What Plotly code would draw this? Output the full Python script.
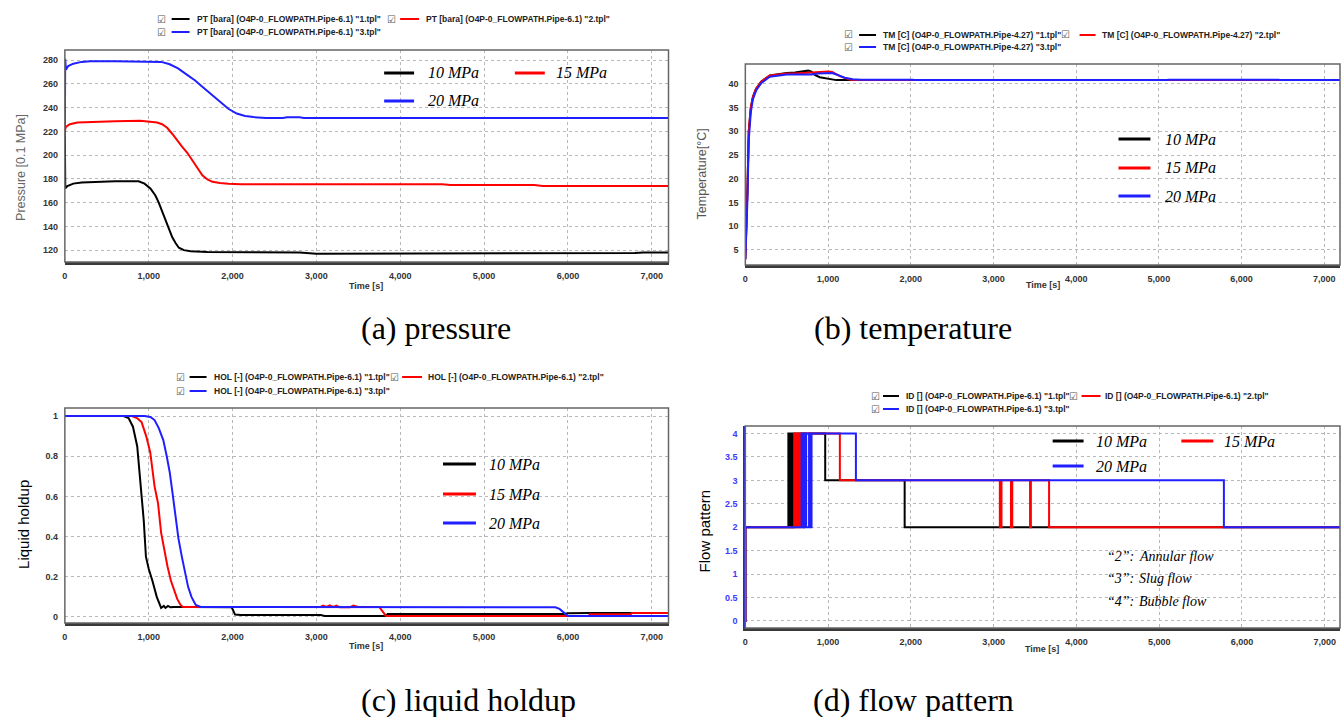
import plotly.graph_objects as go

W, H = 1341, 717

# ---------------- data ----------------
series_names = ["10 MPa", "15 MPa", "20 MPa"]
series_colors = ["#000000", "#ff0000", "#1f1fff"]

# (a) pressure [0.1 MPa]
p_t_10 = [0, 5, 30, 100, 200, 400, 600, 880, 950, 1020, 1080, 1120, 1160, 1200, 1240, 1280, 1320, 1360, 1420, 1500, 1700, 2000, 2200, 2800, 3000, 4200, 5200, 5300, 6800, 6900, 7200]
p_v_10 = [216, 172, 174, 176, 177, 177.5, 178, 178, 176, 172, 166, 160, 153, 146, 138, 131, 126, 122, 120, 119, 118.5, 118.5, 118, 118, 117, 117, 117, 117.5, 117.5, 118, 118]
p_t_15 = [0, 4, 15, 60, 150, 300, 600, 900, 1000, 1100, 1160, 1220, 1280, 1340, 1400, 1460, 1520, 1580, 1640, 1700, 1760, 1850, 1950, 2100, 4500, 4600, 5600, 5700, 7200]
p_v_15 = [216, 222, 224, 226, 227.5, 228, 228.5, 229, 228.5, 227.5, 226, 223, 218, 212, 207, 202, 196, 189, 183, 179.5, 177.5, 176.5, 175.8, 175.5, 175.5, 174.8, 174.8, 174, 174]
p_t_20 = [0, 4, 12, 40, 100, 200, 300, 600, 1000, 1150, 1250, 1350, 1450, 1550, 1650, 1750, 1850, 1950, 2050, 2150, 2250, 2400, 2600, 2650, 2800, 2850, 4000, 7200]
p_v_20 = [216, 281, 272, 275, 277, 278.5, 279, 279, 279, 278.5, 276.5, 273, 268, 263, 257, 251, 245, 239, 235, 233, 232, 231.2, 231.2, 231.8, 231.8, 231.2, 231.2, 231.2]

# (b) temperature [C]
t_t_10 = [0, 5, 15, 26, 41, 66, 92, 130, 194, 296, 400, 500, 600, 700, 760, 800, 840, 900, 1000, 1100, 7200]
t_v_10 = [3, 5, 12, 18, 30, 35, 37.3, 39, 40.5, 41.8, 42.1, 42.3, 42.4, 42.6, 42.8, 42.6, 41.9, 41.4, 41.1, 40.8, 40.8]
t_t_15 = [0, 5, 15, 26, 41, 66, 92, 130, 194, 296, 400, 500, 600, 700, 800, 900, 1000, 1050, 1100, 1150, 1250, 1300, 7200]
t_v_15 = [3, 5, 12, 18, 30, 35, 37.3, 39, 40.5, 41.8, 42.0, 42.2, 42.2, 42.3, 42.4, 42.6, 42.6, 42.5, 42.1, 41.6, 41.0, 40.8, 40.8]
t_t_20 = [0, 5, 15, 26, 41, 66, 92, 130, 194, 296, 400, 500, 600, 700, 800, 880, 950, 1050, 1100, 1150, 1200, 1300, 1400, 2030, 2040, 5100, 5110, 6450, 6460, 7200]
t_v_20 = [3, 4.5, 10, 16, 28, 34, 36.8, 38.6, 40.2, 41.5, 41.8, 42.0, 42.0, 42.0, 42.0, 42.2, 42.3, 42.3, 42.0, 41.6, 41.3, 41.0, 40.9, 40.9, 40.8, 40.8, 40.9, 40.9, 40.8, 40.8]

# (c) liquid holdup [-]
h_t_10 = [0, 700, 760, 812, 863, 905, 941, 967, 1000, 1044, 1096, 1148, 1180, 1200, 1230, 1260, 1300, 1500, 1850, 1990, 2030, 2100, 3050, 3100, 3830, 3850, 5950, 6000, 6250, 7200]
h_v_10 = [1, 1, 0.99, 0.947, 0.85, 0.65, 0.48, 0.3, 0.24, 0.18, 0.1, 0.045, 0.055, 0.045, 0.055, 0.048, 0.05, 0.05, 0.05, 0.048, 0.012, 0.01, 0.01, 0.005, 0.005, 0.015, 0.015, 0.018, 0.02, 0.02]
h_t_15 = [0, 800, 860, 915, 970, 1018, 1070, 1111, 1148, 1190, 1225, 1265, 1303, 1340, 1380, 1410, 1500, 3050, 3080, 3120, 3160, 3200, 3240, 3280, 3320, 3400, 3440, 3480, 3500, 3750, 3800, 3830, 6000, 6250, 6260, 6750, 6760, 7200]
h_v_15 = [1, 1, 0.99, 0.97, 0.9, 0.82, 0.65, 0.567, 0.42, 0.32, 0.25, 0.18, 0.135, 0.09, 0.06, 0.05, 0.05, 0.05, 0.057, 0.05, 0.058, 0.05, 0.057, 0.048, 0.048, 0.048, 0.057, 0.05, 0.05, 0.05, 0.02, 0.005, 0.005, 0.005, 0.014, 0.014, 0.02, 0.02]
h_t_20 = [0, 950, 1020, 1070, 1120, 1174, 1215, 1251, 1280, 1303, 1330, 1355, 1395, 1432, 1470, 1510, 1561, 1620, 5800, 5850, 5900, 5950, 6000, 7200]
h_v_20 = [1, 1, 0.995, 0.98, 0.94, 0.88, 0.8, 0.72, 0.63, 0.55, 0.47, 0.39, 0.3, 0.22, 0.15, 0.1, 0.06, 0.05, 0.05, 0.048, 0.04, 0.02, 0.005, 0.005]

# (d) flow pattern ID (step)
f_t_10 = [0, 1, 520, 528, 536, 544, 552, 560, 568, 576, 584, 700, 708, 965, 1925, 7200]
f_v_10 = [0, 2, 4, 2, 4, 2, 4, 2, 4, 2, 4, 2, 4, 3, 2, 2]
f_t_15 = [0, 1, 590, 598, 606, 614, 622, 640, 648, 660, 668, 1142, 3075, 3095, 3210, 3225, 3440, 3450, 3670, 7200]
f_v_15 = [0, 2, 4, 2, 4, 2, 4, 2, 4, 2, 4, 3, 2, 3, 2, 3, 2, 3, 2, 2]
f_t_20 = [0, 1, 680, 690, 700, 715, 725, 735, 770, 780, 800, 1336, 5782, 7200]
f_v_20 = [0, 2, 4, 2, 4, 2, 4, 2, 4, 2, 4, 3, 2, 2]

legend_a = ['PT [bara] (O4P-0_FLOWPATH.Pipe-6.1) "1.tpl"', 'PT [bara] (O4P-0_FLOWPATH.Pipe-6.1) "2.tpl"', 'PT [bara] (O4P-0_FLOWPATH.Pipe-6.1) "3.tpl"']
legend_b = ['TM [C] (O4P-0_FLOWPATH.Pipe-4.27) "1.tpl"', 'TM [C] (O4P-0_FLOWPATH.Pipe-4.27) "2.tpl"', 'TM [C] (O4P-0_FLOWPATH.Pipe-4.27) "3.tpl"']
legend_c = ['HOL [-] (O4P-0_FLOWPATH.Pipe-6.1) "1.tpl"', 'HOL [-] (O4P-0_FLOWPATH.Pipe-6.1) "2.tpl"', 'HOL [-] (O4P-0_FLOWPATH.Pipe-6.1) "3.tpl"']
legend_d = ['ID [] (O4P-0_FLOWPATH.Pipe-6.1) "1.tpl"', 'ID [] (O4P-0_FLOWPATH.Pipe-6.1) "2.tpl"', 'ID [] (O4P-0_FLOWPATH.Pipe-6.1) "3.tpl"']

captions = ["(a) pressure", "(b) temperature", "(c) liquid holdup", "(d) flow pattern"]
y_titles = ["Pressure [0.1 MPa]", "Temperature[°C]", "Liquid holdup", "Flow pattern"]
x_title = "Time [s]"
flow_codes = ["“2”:", "“3”:", "“4”:"]
flow_names = ["Annular flow", "Slug flow", "Bubble flow"]

# ---------------- figure ----------------
def X(p): return p / W
def Y(p): return 1 - p / H

fig = go.Figure()

panel_data = [
    ([p_t_10, p_t_15, p_t_20], [p_v_10, p_v_15, p_v_20], "linear"),
    ([t_t_10, t_t_15, t_t_20], [t_v_10, t_v_15, t_v_20], "linear"),
    ([h_t_10, h_t_15, h_t_20], [h_v_10, h_v_15, h_v_20], "linear"),
    ([f_t_10, f_t_15, f_t_20], [f_v_10, f_v_15, f_v_20], "hv"),
]
axis_ids = [("x", "y"), ("x2", "y2"), ("x3", "y3"), ("x4", "y4")]
for (ts, vs, shp), (xa, ya) in zip(panel_data, axis_ids):
    for t, v, c in zip(ts, vs, series_colors):
        fig.add_trace(go.Scatter(x=t, y=v, xaxis=xa, yaxis=ya, mode="lines",
                                 line=dict(color=c, width=2, shape=shp),
                                 showlegend=False, hoverinfo="skip"))

# layout geometry (pixels): left, right, top, bottom
geo = [
    dict(l=62, r=667, t=50, b=262, xr=[0, 7200], yr=[110, 288.5], dy=20, ytc="#333333"),
    dict(l=744, r=1340, t=64, b=265, xr=[0, 7190], yr=[1.8, 44.2], dy=5, ytc="#333333"),
    dict(l=62, r=667, t=408, b=623, xr=[0, 7200], yr=[-0.03, 1.04], dy=0.2, ytc="#333333"),
    dict(l=744, r=1340, t=426, b=628, xr=[0, 7185], yr=[-0.15, 4.16], dy=0.5, ytc="#3b3bff"),
]
grid = "#b8b8b8"
tickfont_base = dict(family="Liberation Sans", size=9, weight="bold")
layout = {}
shapes = []
for i, g in enumerate(geo):
    sfx = "" if i == 0 else str(i + 1)
    layout["xaxis" + sfx] = dict(
        domain=[X(g["l"]), X(g["r"])], range=g["xr"], anchor="y" + sfx,
        dtick=1000, tick0=0, tickformat=",d", showgrid=True, gridcolor=grid, griddash="dot",
        gridwidth=1, zeroline=False, showline=True, linecolor="#3a3a3a", linewidth=2.5,
        ticks="outside", ticklen=3, tickcolor="rgba(0,0,0,0)",
        tickfont=dict(color="#333333", **tickfont_base))
    layout["yaxis" + sfx] = dict(
        domain=[Y(g["b"]), Y(g["t"])], range=g["yr"], anchor="x" + sfx,
        dtick=g["dy"], tick0=0, showgrid=True, gridcolor=grid, griddash="dot",
        gridwidth=1, zeroline=False, showline=(i == 3), linecolor="#1f1fff", linewidth=2,
        ticks="outside", ticklen=4, tickcolor="rgba(0,0,0,0)",
        tickfont=dict(color=g["ytc"], **tickfont_base))
    shapes.append(dict(type="rect", xref="x%s domain" % sfx, yref="y%s domain" % sfx,
                       x0=0, x1=1, y0=0, y1=1, line=dict(color="#666666", width=1.5),
                       layer="above"))

annotations = []

def text(x, y, s, size, color="#000000", family="Liberation Sans", xanchor="left",
         weight="normal", style="normal", angle=0):
    annotations.append(dict(x=X(x), y=Y(y), xref="paper", yref="paper", text=s,
                            showarrow=False, xanchor=xanchor, yanchor="middle",
                            textangle=angle,
                            font=dict(family=family, size=size, color=color,
                                      weight=weight, style=style)))

def seg(x0, x1, y, color, width):
    shapes.append(dict(type="line", xref="paper", yref="paper", x0=X(x0), x1=X(x1),
                       y0=Y(y), y1=Y(y), line=dict(color=color, width=width)))

# top software legends
top_leg = [
    (legend_a, 19, 32, 159, 169, 187, 192, 389, 398, 417, 422),
    (legend_b, 35, 47, 847, 858, 875, 880, 1065, 1079, 1095, 1099),
    (legend_c, 377, 391, 178, 187, 204, 209, 392, 400, 420, 424),
    (legend_d, 396, 409, 874, 882, 898, 903, 1073, 1081, 1100, 1102),
]
for labels, r1, r2, cb1, l1a, l1b, tx1, cb2, l2a, l2b, tx2 in top_leg:
    items = [(r1, cb1, l1a, l1b, tx1), (r1, cb2, l2a, l2b, tx2), (r2, cb1, l1a, l1b, tx1)]
    for (yy, cb, la, lb, tx), lab, col in zip(items, labels, series_colors):
        text(cb, yy, "☑", 10, color="#555555", family="DejaVu Sans", xanchor="center")
        seg(la, lb, yy, col, 2)
        text(tx, yy, lab, 8.5, color="#222222", weight="bold")

# inner legends (line sample x0, x1, y, text x)
inner = [
    [(382, 412, 73, 424), (513, 543, 73, 552), (382, 412, 101, 424)],
    [(1118, 1150, 139, 1163), (1118, 1150, 168, 1163), (1118, 1150, 196, 1163)],
    [(441, 474, 464, 485), (441, 474, 494, 485), (441, 474, 523, 485)],
    [(1052, 1083, 441, 1093), (1181, 1213, 441, 1222), (1052, 1083, 466, 1093)],
]
for panel in inner:
    for (a, b, yy, tx), name, col in zip(panel, series_names, series_colors):
        seg(a, b, yy, col, 3)
        text(tx, yy, name, 16, family="Liberation Serif", style="italic")

# flow pattern explanation
for yy, code, name in zip([556, 578, 601], flow_codes, flow_names):
    text(1104, yy, code, 14, family="Liberation Serif", style="italic")
    text(1137, yy, name, 14, family="Liberation Serif", style="italic")

# axis titles
for xx, yy in [(364, 286), (1042, 285), (364, 646), (1041, 649)]:
    text(xx, yy, x_title, 9, color="#333333", xanchor="center", weight="bold")
text(18, 167, y_titles[0], 12.5, color="#666666", xanchor="center", angle=-90)
text(701, 174, y_titles[1], 12.5, color="#555555", xanchor="center", angle=-90)
text(20, 524, y_titles[2], 15, color="#000000", xanchor="center", angle=-90)
text(703, 531, y_titles[3], 15, color="#000000", xanchor="center", angle=-90)

# captions
for (xx, yy), cap in zip([(434, 328), (912, 328), (467, 700), (913, 700)], captions):
    text(xx, yy, cap, 32, family="Liberation Serif", xanchor="center")

fig.update_layout(width=W, height=H, margin=dict(l=0, r=0, t=0, b=0),
                  paper_bgcolor="white", plot_bgcolor="white",
                  shapes=shapes, annotations=annotations, **layout)

fig.write_html("out.html")
